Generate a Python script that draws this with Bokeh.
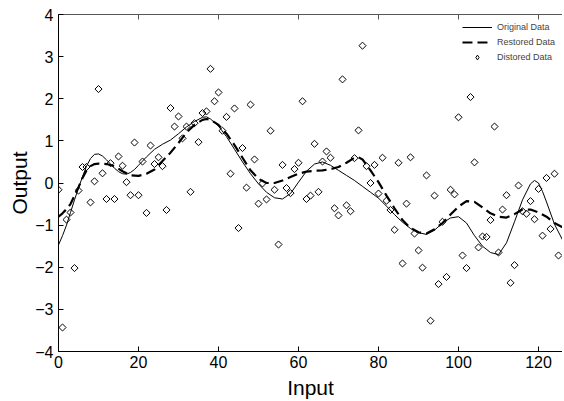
import math
from bokeh.plotting import figure
from bokeh.models import (LinearAxis, Range1d, FixedTicker, Legend, LegendItem,
                          ColumnDataSource)
from bokeh.embed import file_html
from bokeh.resources import INLINE

# Distorted samples (one per input index 0..125)
distorted_y = [
    -0.16, -3.43, -0.87, -0.70, -2.02, -0.18, 0.38, 0.38, -0.46, 0.04,
    2.23, 0.23, -0.38, 0.47, -0.38, 0.63, 0.41, 0.02, -0.29, 0.96,
    -0.29, 0.51, -0.71, 0.89, 0.45, 0.61, 0.40, -0.64, 1.78, 1.34,
    1.58, 1.06, 1.34, -0.21, 1.42, 0.97, 1.66, 1.70, 2.71, 1.94,
    2.15, 1.24, 1.57, 0.22, 1.77, -1.07, 0.83, -0.11, 1.86, 0.56,
    -0.49, -0.01, -0.39, 1.24, -0.16, -1.46, 0.43, -0.12, -0.24, 0.33,
    0.48, 1.94, -0.38, -0.30, 0.93, -0.21, 0.51, 0.75, 0.60, -0.60,
    -0.77, 2.46, -0.53, -0.67, 0.59, 1.25, 3.26, 0.40, 0.00, 0.43,
    -0.25, 0.60, -0.42, -0.64, -1.11, 0.48, -1.91, -0.49, 0.61, -1.20,
    -1.60, -2.01, 0.18, -3.27, -0.30, -2.40, -0.92, -2.23, -0.16, -0.27,
    1.56, -1.72, -2.02, 2.04, 0.49, -1.53, -1.27, -1.28, -0.88, 1.34,
    -1.65, -0.63, -0.29, -2.37, -1.95, -0.06, -0.67, -0.73, -0.43, -0.86,
    -0.14, -1.25, 0.12, -1.09, 0.22, -1.72,
]
distorted_x = list(range(len(distorted_y)))

# Original (clean) signal
orig_x = [0, 1, 2, 3, 4, 5, 6, 7, 8, 9, 10, 11, 12, 13, 14, 15, 16, 17, 18, 19,
          20, 22, 24, 26, 28, 30, 32, 34, 36, 37, 38, 40, 42, 44, 46, 48, 50,
          52, 54, 56, 58, 60, 62, 64, 66, 68, 70, 72, 74, 76, 78, 80, 82, 84,
          86, 88, 90, 92, 94, 96, 98, 100, 102, 104, 106, 108, 110, 112, 114,
          116, 118, 119, 120, 121, 122, 124, 126]
orig_y = [-1.47, -1.25, -1.00, -0.70, -0.40, -0.12, 0.15, 0.40, 0.58, 0.68,
          0.69, 0.64, 0.55, 0.45, 0.35, 0.27, 0.22, 0.21, 0.25, 0.32,
          0.42, 0.62, 0.80, 0.92, 1.02, 1.17, 1.33, 1.46, 1.56, 1.57,
          1.52, 1.35, 1.10, 0.80, 0.50, 0.22, -0.02, -0.22, -0.35, -0.38,
          -0.25, 0.02, 0.28, 0.45, 0.50, 0.42, 0.30, 0.18, 0.06, -0.08,
          -0.22, -0.36, -0.55, -0.75, -0.93, -1.08, -1.18, -1.22, -1.12, -0.95,
          -0.83, -0.80, -0.95, -1.25, -1.50, -1.65, -1.70, -1.42, -0.92, -0.40,
          -0.02, 0.06, 0.00, -0.20, -0.45, -0.98, -1.35]

# Restored signal
rest_x = [0, 1, 2, 3, 4, 5, 6, 7, 8, 9, 10, 12, 14, 16, 18, 20, 22, 24, 26, 28,
          30, 32, 34, 36, 37, 38, 40, 42, 44, 46, 48, 50, 52, 54, 56, 58, 60,
          62, 64, 66, 68, 70, 72, 74, 75, 76, 78, 80, 82, 84, 86, 88, 90, 92,
          94, 96, 98, 100, 102, 104, 106, 108, 110, 112, 114, 116, 118, 120,
          122, 124, 126]
rest_y = [-0.80, -0.72, -0.62, -0.50, -0.30, -0.10, 0.12, 0.30, 0.40, 0.45,
          0.46, 0.45, 0.40, 0.28, 0.18, 0.17, 0.22, 0.32, 0.52, 0.72,
          0.95, 1.20, 1.38, 1.50, 1.52, 1.50, 1.38, 1.17, 0.90, 0.60,
          0.30, 0.10, 0.00, 0.00, 0.06, 0.14, 0.22, 0.27, 0.29, 0.30,
          0.33, 0.38, 0.48, 0.60, 0.61, 0.56, 0.30, 0.02, -0.30, -0.60,
          -0.88, -1.07, -1.17, -1.20, -1.10, -0.95, -0.75, -0.56, -0.43, -0.45,
          -0.58, -0.72, -0.80, -0.82, -0.74, -0.63, -0.63, -0.70, -0.80, -0.95,
          -1.05]

x_ticks = [0, 20, 40, 60, 80, 100, 120]
y_ticks = [-4, -3, -2, -1, 0, 1, 2, 3, 4]

FONT = "Liberation Sans"

p = figure(frame_width=504, frame_height=337, output_backend="svg",
           toolbar_location=None, x_range=Range1d(0, 126), y_range=Range1d(-4, 4),
           min_border_left=0, min_border_right=0, min_border_top=14,
           min_border_bottom=0, x_axis_label="Input", y_axis_label="Output")
p.margin = (0, 0, 0, 5)
# a range lying wholly outside the frame: used only to give the legend its diamond key
p.extra_y_ranges = {"key": Range1d(100, 101)}
p.grid.visible = False
p.outline_line_color = None
p.background_fill_color = "white"

for ax, ticks in ((p.xaxis[0], x_ticks), (p.yaxis[0], y_ticks)):
    ax.ticker = FixedTicker(ticks=ticks)
    ax.major_tick_in = 5
    ax.major_tick_out = 0
    ax.minor_tick_line_color = None
    ax.axis_line_color = "black"
    ax.major_tick_line_color = "black"
    ax.major_label_text_font = FONT
    ax.major_label_text_font_size = "16px"
    ax.major_label_text_color = "black"
    ax.axis_label_text_font = FONT
    ax.axis_label_text_font_size = "21px"
    ax.axis_label_text_font_style = "normal"
    ax.axis_label_text_color = "black"
p.xaxis[0].major_label_standoff = 4
p.xaxis[0].axis_label_standoff = 5
p.yaxis[0].major_label_standoff = 5
p.yaxis[0].axis_label_standoff = 1

top = LinearAxis(ticker=FixedTicker(ticks=x_ticks), major_tick_in=5, major_tick_out=0,
                 minor_tick_line_color=None, axis_line_color="#555555",
                 major_tick_line_color="#555555",
                 major_label_overrides={t: "" for t in x_ticks},
                 major_label_standoff=0, major_label_text_font_size="1px")
p.add_layout(top, "above")

src = ColumnDataSource(dict(x=distorted_x, y=distorted_y))
r_orig = p.line(orig_x, orig_y, line_color="black", line_width=1)
r_rest = p.line(rest_x, rest_y, line_color="black", line_width=2.2, line_dash="10 5")
r_dist = p.scatter("x", "y", source=src, marker="square", angle=math.pi / 4, size=5,
                   line_color="black", line_width=1, fill_color=None)
# legend key only: same data mapped to the off-frame range, upright diamond outline
r_key = p.scatter("x", "y", source=src, y_range_name="key", marker="diamond", size=8,
                  line_color="black", line_width=1, fill_color=None)

legend = Legend(items=[LegendItem(label="Original Data", renderers=[r_orig]),
                       LegendItem(label="Restored Data", renderers=[r_rest]),
                       LegendItem(label="Distored Data", renderers=[r_key])],
                location="top_right", border_line_color=None, background_fill_alpha=0,
                label_text_font=FONT, label_text_font_size="9px", glyph_width=30,
                glyph_height=12, label_height=12, spacing=3, padding=4, margin=7,
                label_standoff=5)
p.add_layout(legend)

open("out.html", "w").write(file_html(p, INLINE))
